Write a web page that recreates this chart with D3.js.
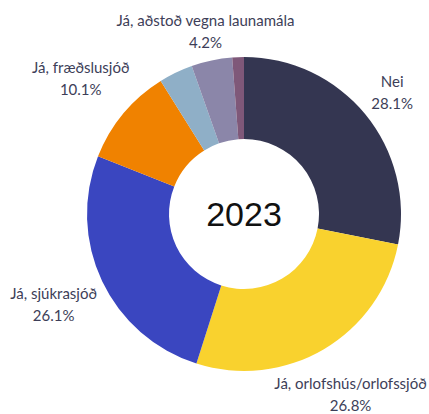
<!DOCTYPE html>
<html><head><meta charset="utf-8">
<script src="https://cdn.jsdelivr.net/npm/d3@7"></script>
<style>html,body{margin:0;padding:0;background:#fff;}svg{display:block;}</style>
</head><body>
<svg id="chart" width="429" height="414"></svg>
<script>
const categories = ["Nei","Já, orlofshús/orlofssjóð","Já, sjúkrasjóð","Já, fræðslusjóð","Já, annað","Já, aðstoð vegna launamála","Annað"];
const values = [28.1, 26.8, 26.1, 10.1, 3.5, 4.2, 1.2];
const showLabel = [true, true, true, true, false, true, false];
const colors = ["#343651","#f9d22e","#3a46c0","#f08200","#8fafc7","#8b86a9","#7f5879"];
const centerText = "2023";

const W = 429, H = 414;
const cx = 244, cy = 214, outerR = 157, innerR = 75, labelGap = 6;
const svg = d3.select("#chart");
const g = svg.append("g").attr("transform", `translate(${cx},${cy})`);

const data = categories.map((c,i)=>({name:c, value:values[i], color:colors[i], label:showLabel[i]}));
const pie = d3.pie().value(d=>d.value).sort(null);
const arc = d3.arc().innerRadius(innerR).outerRadius(outerR);
const arcs = pie(data);

g.selectAll("path.slice").data(arcs).join("path")
  .attr("class","slice").attr("d", arc).attr("fill", d=>d.data.color);

g.append("text").attr("x",0).attr("y",0).attr("dy","0.35em")
  .attr("text-anchor","middle").attr("font-family","Liberation Sans, Arial, sans-serif")
  .attr("font-size",34).attr("fill","#111").text(centerText);

const fmt = v => v.toFixed(1) + "%";
const labels = g.selectAll("g.lab").data(arcs.filter(d=>d.data.label)).join("g").attr("class","lab");
labels.each(function(d){
  const sel = d3.select(this);
  const t = sel.append("text").attr("text-anchor","middle")
    .attr("font-family","Lato, 'Noto Sans', sans-serif").attr("font-size",15).attr("fill","#3d3e58");
  t.append("tspan").attr("x",0).attr("y",0).text(d.data.name);
  t.append("tspan").attr("x",0).attr("y",22).text(fmt(d.data.value));
  const bb = t.node().getBBox();
  t.attr("transform", `translate(0,${-(bb.y + bb.height/2)})`);
  const w = bb.width, h = bb.height;
  const a = (d.startAngle + d.endAngle)/2;
  const ux = Math.sin(a), uy = -Math.cos(a);
  const nearest = (dist) => {
    const x = ux*dist, y = uy*dist;
    const nx = Math.max(x - w/2, Math.min(0, x + w/2));
    const ny = Math.max(y - h/2, Math.min(0, y + h/2));
    return Math.hypot(nx, ny);
  };
  let lo = outerR, hi = outerR + 400;
  for (let k=0;k<60;k++){ const m=(lo+hi)/2; if (nearest(m) < outerR + labelGap) lo = m; else hi = m; }
  sel.attr("transform", `translate(${ux*hi},${uy*hi})`);
});
</script>
</body></html>
